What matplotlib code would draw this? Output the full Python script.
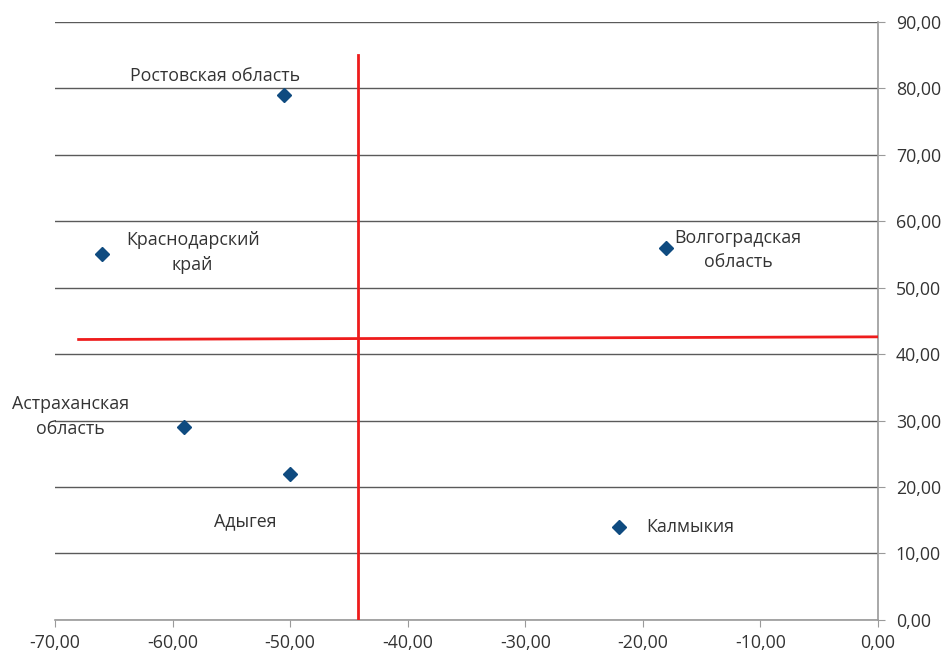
import matplotlib
matplotlib.use('Agg')
import matplotlib.pyplot as plt

plt.rcParams['font.family'] = ['Open Sans', 'DejaVu Sans']

# Данные
regions = ['Ростовская область', 'Краснодарский\nкрай', 'Волгоградская\nобласть',
           'Астраханская\nобласть', 'Адыгея', 'Калмыкия']
x_vals = [-50.5, -66.0, -18.0, -59.0, -50.0, -22.0]
y_vals = [79.0, 55.0, 56.0, 29.0, 22.0, 14.0]
label_x = [-56.4, -58.3, -11.9, -68.7, -53.8, -19.7]
label_y = [81.9, 55.3, 55.7, 30.6, 14.9, 14.0]
label_ha = ['center', 'center', 'center', 'center', 'center', 'left']

# Линии раздела квадрантов
vline_x = [-44.2, -44.2]
vline_y = [0, 85]
hline_x = [-68, 0]
hline_y = [42.2, 42.6]

x_ticks = [-70, -60, -50, -40, -30, -20, -10, 0]
y_ticks = [0, 10, 20, 30, 40, 50, 60, 70, 80, 90]

fig = plt.figure(figsize=(9.5, 6.63), dpi=100)
ax = fig.add_axes([0.058, 0.065, 0.866, 0.902])

ax.set_xlim(-70, 0)
ax.set_ylim(0, 90)
ax.set_xticks(x_ticks)
ax.set_yticks(y_ticks)
ax.set_xticklabels([('%.2f' % v).replace('.', ',') for v in x_ticks])
ax.set_yticklabels([('%.2f' % v).replace('.', ',') for v in y_ticks])

ax.yaxis.tick_right()
ax.grid(True, axis='y', color='#5a5a5a', linewidth=1)
ax.set_axisbelow(True)
for s in ['left', 'top']:
    ax.spines[s].set_visible(False)
for s in ['right', 'bottom']:
    ax.spines[s].set_color('#9a9a9a')
    ax.spines[s].set_linewidth(1.2)
ax.tick_params(axis='both', colors='#9a9a9a', length=5, labelsize=12.8,
               labelcolor='#333333')
ax.tick_params(axis='y', pad=8)
ax.tick_params(axis='x', pad=5)

ax.plot(x_vals, y_vals, linestyle='none', marker='D', markersize=7,
        color='#0f4b80', zorder=5)

ax.plot(vline_x, vline_y, color='#ee1c1c', linewidth=2, zorder=4)
ax.plot(hline_x, hline_y, color='#ee1c1c', linewidth=2, zorder=4)

for name, lx, ly, ha in zip(regions, label_x, label_y, label_ha):
    ax.text(lx, ly, name, ha=ha, va='center', fontsize=12.8,
            color='#333333', linespacing=1.45, clip_on=False)

fig.savefig('out.png', dpi=100)
